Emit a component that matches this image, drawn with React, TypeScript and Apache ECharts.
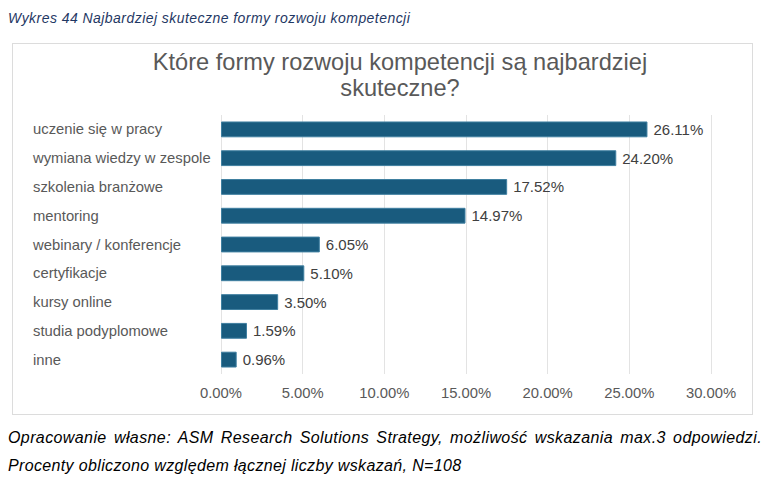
import React, { useEffect, useRef } from "react";
import * as echarts from "echarts";

const categories = [
  "uczenie się w pracy",
  "wymiana wiedzy w zespole",
  "szkolenia branżowe",
  "mentoring",
  "webinary / konferencje",
  "certyfikacje",
  "kursy online",
  "studia podyplomowe",
  "inne",
];
const values = [26.11, 24.2, 17.52, 14.97, 6.05, 5.1, 3.5, 1.59, 0.96];
const axisMax = 30;
const axisStep = 5;

const captionText = "Wykres 44 Najbardziej skuteczne formy rozwoju kompetencji";
const chartTitle = "Które formy rozwoju kompetencji są najbardziej\nskuteczne?";
const footerLine1 =
  "Opracowanie własne: ASM Research Solutions Strategy, możliwość wskazania max.3 odpowiedzi.";
const footerLine2 = "Procenty obliczono względem łącznej liczby wskazań, N=108";

const FONT = "'Liberation Sans', Arial, sans-serif";

function Chart() {
  const ref = useRef<HTMLDivElement>(null);
  useEffect(() => {
    if (!ref.current) return;
    const chart = echarts.init(ref.current, undefined, { renderer: "svg" });
    chart.setOption({
      animation: false,
      title: {
        text: chartTitle,
        left: 382,
        top: 0,
        textAlign: "center",
        textStyle: {
          fontFamily: FONT,
          fontSize: 23.6,
          fontWeight: "normal",
          color: "#595959",
          lineHeight: 26,
        },
      },
      grid: { left: 208, right: 41, top: 71, bottom: 40, containLabel: false },
      xAxis: {
        type: "value",
        min: 0,
        max: axisMax,
        interval: axisStep,
        axisLine: { show: false },
        axisTick: { show: false },
        splitLine: { show: true, lineStyle: { color: "#e3e3e3", width: 1 } },
        axisLabel: {
          margin: 11,
          fontFamily: FONT,
          fontSize: 14.8,
          color: "#595959",
          formatter: (v: number) => v.toFixed(2) + "%",
        },
      },
      yAxis: {
        type: "category",
        data: categories,
        inverse: true,
        axisLine: { show: false },
        axisTick: { show: false },
        splitLine: { show: false },
        axisLabel: {
          align: "left",
          margin: 188,
          fontFamily: FONT,
          fontSize: 14.8,
          color: "#595959",
        },
      },
      series: [
        {
          type: "bar",
          data: values,
          barWidth: "55%",
          itemStyle: { color: "#195b7e", borderColor: "#3f7fa0", borderWidth: 1 },
          label: {
            show: true,
            position: "right",
            distance: 6,
            fontFamily: FONT,
            fontSize: 15,
            color: "#404040",
            formatter: (p: any) => Number(p.value).toFixed(2) + "%",
          },
        },
      ],
    });
    return () => chart.dispose();
  }, []);
  return <div ref={ref} style={{ width: 739, height: 370 }} />;
}

export default function App() {
  return (
    <div
      style={{
        position: "fixed",
        left: 0,
        top: 0,
        width: 767,
        height: 484,
        background: "#fff",
        overflow: "hidden",
        fontFamily: FONT,
      }}
    >
      <div
        style={{
          position: "absolute",
          left: 8,
          top: 9,
          fontSize: 14,
          letterSpacing: "0.45px",
          fontStyle: "italic",
          color: "#1f3864",
          whiteSpace: "nowrap",
          lineHeight: "18px",
        }}
      >
        {captionText}
      </div>
      <div
        style={{
          position: "absolute",
          left: 12,
          top: 43,
          width: 739,
          height: 370,
          border: "1px solid #dcdcdc",
        }}
      >
        <Chart />
      </div>
      <div
        style={{
          position: "absolute",
          left: 8,
          top: 428,
          width: 754,
          fontSize: 16,
          letterSpacing: "0.4px",
          fontStyle: "italic",
          color: "#000",
          lineHeight: "20px",
          textAlign: "justify",
          textAlignLast: "justify" as any,
        }}
      >
        {footerLine1}
      </div>
      <div
        style={{
          position: "absolute",
          left: 8,
          top: 456,
          fontSize: 16,
          letterSpacing: "0.35px",
          fontStyle: "italic",
          color: "#000",
          lineHeight: "20px",
          whiteSpace: "nowrap",
        }}
      >
        {footerLine2}
      </div>
    </div>
  );
}
